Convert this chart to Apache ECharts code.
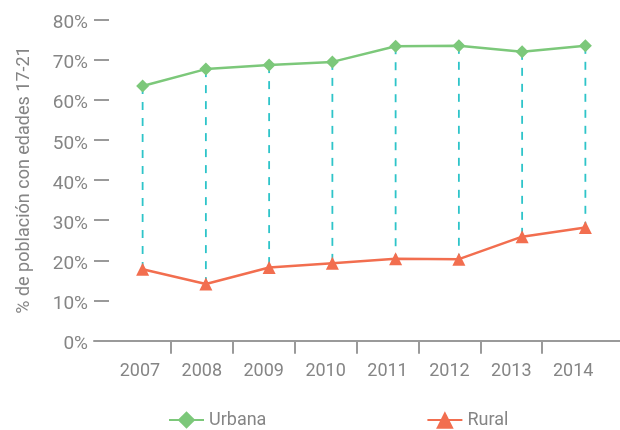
<!doctype html>
<html lang="es">
<head>
<meta charset="UTF-8">
<title>Población 17-21 urbana / rural</title>
<script src="https://cdn.jsdelivr.net/npm/echarts@6/dist/echarts.min.js"></script>
<style>
  html, body { margin: 0; background: #fff; }
  #chart { width: 620px; height: 430px; }
</style>
</head>
<body>
<div id="chart"></div>
<script>
// datos
var years = ['2007', '2008', '2009', '2010', '2011', '2012', '2013', '2014'];
var urbana = [63.4, 67.6, 68.6, 69.4, 73.3, 73.4, 71.9, 73.4];
var rural = [17.8, 14.1, 18.2, 19.3, 20.4, 20.3, 25.9, 28.2];
var yTickValues = [10, 20, 30, 40, 50, 60, 70, 80];
var yLabelValues = [0, 10, 20, 30, 40, 50, 60, 70, 80];

var font = "'Roboto', sans-serif";
var gray = '#858585';
var lineGray = '#9a9a9a';

var chart = echarts.init(document.getElementById('chart'));

// pares para las líneas punteadas verticales
var drops = years.map(function (y, i) { return [i, rural[i], urbana[i]]; });

var option = {
  animation: false,
  textStyle: { fontFamily: font },
  grid: [
    { left: 111, right: 3, top: 19.3, bottom: 89.3 },   // datos
    { left: 109, right: -46, top: 19.3, bottom: 89.3, outerBoundsMode: 'none' }, // etiquetas x, banda extra fuera del lienzo
    { left: 94, right: 0, top: 19.3, bottom: 89.3 }     // línea del eje x
  ],
  xAxis: [
    { type: 'category', gridIndex: 0, data: years, show: false },
    {
      type: 'category', gridIndex: 1, data: years, offset: 12, max: years.length,
      axisLine: { show: false },
      axisTick: {
        show: true, length: 13,
        interval: function (i) { return i > 0 && i < years.length; },
        lineStyle: { color: lineGray, width: 2 }
      },
      axisLabel: { color: gray, fontSize: 18, margin: 10, fontFamily: font }
    },
    {
      type: 'category', gridIndex: 2, data: years, offset: 12,
      axisLine: { lineStyle: { color: lineGray, width: 2 } },
      axisTick: { show: false },
      axisLabel: { show: false }
    }
  ],
  yAxis: [
    {
      type: 'value', gridIndex: 0, min: 0, max: 80, interval: 10, offset: 17,
      name: '% de población con edades 17-21',
      nameLocation: 'middle', nameGap: 61,
      nameTextStyle: { color: gray, fontSize: 18, fontFamily: font },
      axisLine: { show: false },
      axisTick: {
        show: true, inside: true, length: 15,
        customValues: yTickValues,
        lineStyle: { color: lineGray, width: 2 }
      },
      axisLabel: {
        customValues: yLabelValues,
        formatter: '{a|{value}%}', margin: 6,
        rich: { a: { color: gray, fontSize: 19, padding: [8, 0, 0, 0], fontFamily: font } }
      },
      splitLine: { show: false }
    },
    { type: 'value', gridIndex: 1, min: 0, max: 80, show: false },
    { type: 'value', gridIndex: 2, min: 0, max: 80, show: false }
  ],
  legend: {
    data: ['Urbana', 'Rural'],
    left: 163, top: 406,
    itemWidth: 35, itemHeight: 22, itemGap: 160,
    textStyle: { color: gray, fontSize: 18, fontFamily: font }
  },
  series: [
    {
      type: 'custom', xAxisIndex: 0, yAxisIndex: 0, z: 1,
      encode: { x: 0, y: [1, 2] },
      data: drops,
      renderItem: function (params, api) {
        var top = api.coord([api.value(0), api.value(2)]);
        var bottom = api.coord([api.value(0), api.value(1)]);
        return {
          type: 'line',
          shape: { x1: top[0], y1: top[1], x2: bottom[0], y2: bottom[1] },
          style: { stroke: '#2ec4c9', lineWidth: 1.8, lineDash: [8, 8] }
        };
      }
    },
    {
      name: 'Urbana', type: 'line', data: urbana, xAxisIndex: 0, yAxisIndex: 0, z: 3,
      symbol: 'diamond', symbolSize: 13,
      lineStyle: { color: '#7cc87a', width: 2.5 },
      itemStyle: { color: '#7cc87a' }
    },
    {
      name: 'Rural', type: 'line', data: rural, xAxisIndex: 0, yAxisIndex: 0, z: 3,
      symbol: 'triangle', symbolSize: 13,
      lineStyle: { color: '#f26e4f', width: 2.5 },
      itemStyle: { color: '#f26e4f' }
    }
  ]
};

chart.setOption(option);
</script>
</body>
</html>
